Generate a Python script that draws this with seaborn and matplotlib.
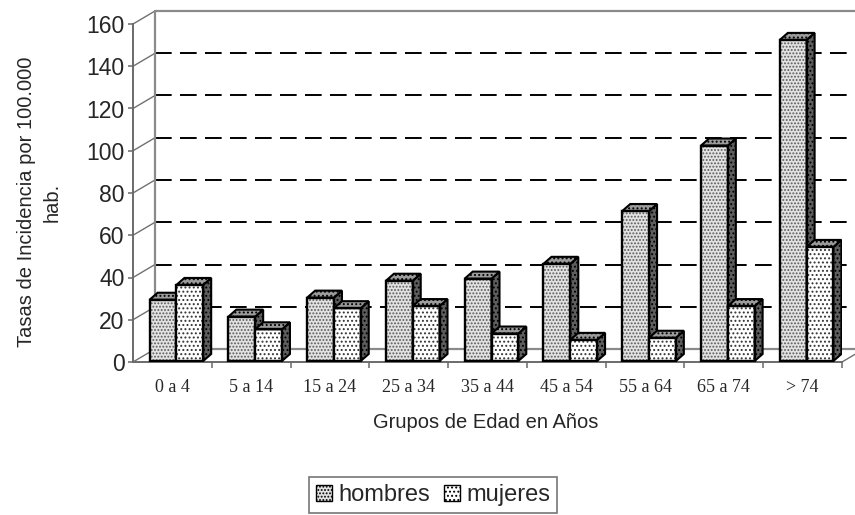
import matplotlib
matplotlib.use("Agg")
import matplotlib.pyplot as plt
import matplotlib.transforms as mtransforms
from matplotlib.patches import Polygon, Rectangle, Patch
import numpy as np
import pandas as pd
import seaborn as sns

# ---------------- data ----------------
grupos = ["0 a 4", "5 a 14", "15 a 24", "25 a 34", "35 a 44",
          "45 a 54", "55 a 64", "65 a 74", "> 74"]
hombres = [29, 21, 30, 38, 39, 46, 71, 102, 152]
mujeres = [36, 15, 25, 26, 13, 10, 11, 26, 54]
series = ["hombres", "mujeres"]
yticks = [0, 20, 40, 60, 80, 100, 120, 140, 160]

# ---------------- style ----------------
sns.set_theme(style="white")
plt.rcParams["font.family"] = ["Liberation Sans", "DejaVu Sans"]
plt.rcParams["hatch.linewidth"] = 0.9
plt.rcParams["lines.scale_dashes"] = False

W, H = 855, 515
fig = plt.figure(figsize=(W / 100, H / 100), dpi=100)
ax = fig.add_axes([133 / W, 1 - 362 / H, (842 - 133) / W, (362 - 24) / H])

df = pd.DataFrame({
    "grupo": grupos * 2,
    "sexo": [series[0]] * len(grupos) + [series[1]] * len(grupos),
    "tasa": hombres + mujeres,
})
sns.barplot(data=df, x="grupo", y="tasa", hue="sexo", order=grupos,
            hue_order=series, width=0.68, gap=0, saturation=1,
            palette=["#e2e2e2", "#ffffff"], legend=False, ax=ax,
            linewidth=0, err_kws={"linewidth": 0})

ax.set_xlim(-0.5, 8.5)
ax.set_ylim(0, 160)
ax.patch.set_visible(False)

# pixel -> data unit conversions
sx = (842 - 133) / 9.0
sy = (362 - 24) / 160.0
bdx, bdy = 8.0 / sx, 7.0 / sy      # bar depth
wdx, wdy = 22.0 / sx, 13.0 / sy    # wall depth

shift = ax.transData + mtransforms.ScaledTranslation(4 / 100, 1 / 100, fig.dpi_scale_trans)

front_fc = ["#e2e2e2", "#ffffff"]
front_hc = ["#5a5a5a", "#333333"]
front_hatch = [".....", "...."]
side_fc = "#5e5e5e"
top_fc = "#9c9c9c"

for j, cont in enumerate(ax.containers):
    for i, bar in enumerate(cont):
        z = 3 + j
        x0, w, h = bar.get_x(), bar.get_width(), bar.get_height()
        bar.set_transform(shift)
        bar.set_facecolor(front_fc[j])
        bar.set_edgecolor(front_hc[j])
        bar.set_hatch(front_hatch[j])
        bar.set_linewidth(0)
        bar.set_zorder(z)
        ax.add_patch(Rectangle((x0, 0), w, h, fill=False, ec="black",
                               lw=1.7, transform=shift, zorder=z + 0.3))
        side = Polygon([(x0 + w, 0), (x0 + w + bdx, bdy), (x0 + w + bdx, h + bdy), (x0 + w, h)],
                       closed=True, fc=side_fc, ec="black", lw=1.5, hatch="....",
                       transform=shift, zorder=z + 0.1)
        top = Polygon([(x0, h), (x0 + bdx, h + bdy), (x0 + w + bdx, h + bdy), (x0 + w, h)],
                      closed=True, fc=top_fc, ec="black", lw=1.5, hatch="....",
                      transform=shift, zorder=z + 0.2)
        ax.add_patch(side)
        ax.add_patch(top)

# ---------------- walls & grid ----------------
gray = "#8a8a8a"
xl, xr = -0.5, 9.5
for v in yticks:
    if v in (0, 160):
        ax.plot([xl + wdx, xr], [v + wdy, v + wdy], color=gray, lw=1.6,
                clip_on=False, zorder=1)
    else:
        ax.plot([xl + wdx, xr], [v + wdy, v + wdy], color="black", lw=1.4,
                ls=(0, (12, 6)), clip_on=False, zorder=1)
    ax.plot([xl, xl + wdx], [v, v + wdy], color="#707070", lw=1.0,
            clip_on=False, zorder=1)
ax.plot([xl + wdx, xl + wdx], [wdy, 160 + wdy], color=gray, lw=1.6,
        clip_on=False, zorder=1)
ax.plot([8.5, 8.5 + wdx], [0, wdy], color="#707070", lw=1.0, clip_on=False, zorder=1)

# ---------------- axes ----------------
for s in ("top", "right"):
    ax.spines[s].set_visible(False)
for s in ("left", "bottom"):
    ax.spines[s].set_color("#6a6a6a")
    ax.spines[s].set_linewidth(1.4)

ax.set_yticks(yticks)
ax.set_yticklabels([str(v) for v in yticks])
ax.tick_params(axis="y", left=True, length=3.5, width=1.1, color="#6a6a6a",
               pad=2.5, labelsize=16.5, direction="out")
ax.set_xticks(range(len(grupos)))
ax.set_xticklabels(grupos, family=["Liberation Serif", "DejaVu Serif"], fontsize=13)
ax.set_xticks(np.arange(0.5, len(grupos), 1.0), minor=True)
ax.tick_params(axis="x", which="major", length=0, pad=12)
ax.tick_params(axis="x", which="minor", bottom=True, length=4.5, width=1.1,
               color="#6a6a6a", direction="out")
ax.set_xlabel("")
ax.set_ylabel("")
ax.grid(False)

fig.text(39 / W, 1 - 202 / H, "Tasas de Incidencia por 100.000\nhab.",
         rotation=90, ha="center", va="center", fontsize=14.5,
         linespacing=1.45, multialignment="center")
fig.text(486 / W, 1 - 423 / H, "Grupos de Edad en Años", ha="center",
         va="center", fontsize=14.5)

handles = [Patch(facecolor=front_fc[0], edgecolor="black", hatch=".....", lw=1),
           Patch(facecolor=front_fc[1], edgecolor="black", hatch="....", lw=1)]
leg = fig.legend(handles, series, loc="upper center",
                 bbox_to_anchor=(433 / W, 1 - 477 / H), ncol=2, frameon=True,
                 fancybox=False, fontsize=17, handlelength=0.7,
                 handleheight=0.7, handletextpad=0.25, columnspacing=0.6,
                 borderpad=0.3, borderaxespad=0)
leg.get_frame().set_edgecolor("#555555")
leg.get_frame().set_linewidth(1.2)

fig.savefig("out.png", dpi=100, facecolor="white")
